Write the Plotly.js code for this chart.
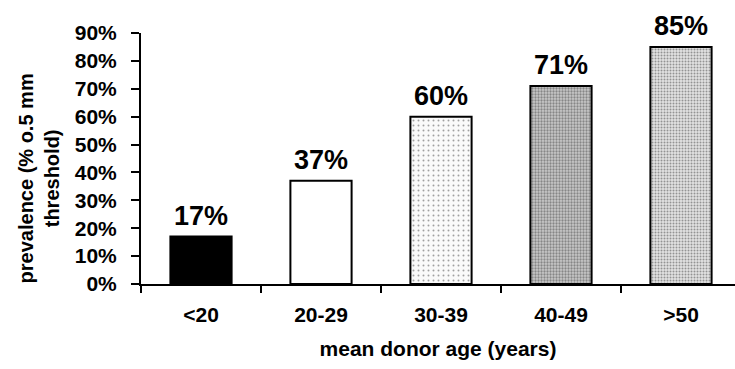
<!DOCTYPE html>
<html>
<head>
<meta charset="utf-8">
<script src="https://cdn.plot.ly/plotly-3.0.1.min.js"></script>
<style>
  html, body { margin: 0; padding: 0; background: #fff; }
  #chart { width: 735px; height: 369px; }
</style>
</head>
<body>
<div id="chart"></div>
<script>
// Donor age groups and prevalence (%) above the 0.5 mm threshold
const ageGroups = ['<20', '20-29', '30-39', '40-49', '>50'];
const prevalence = [17, 37, 60, 71, 85];
const yTickValues = [0, 10, 20, 30, 40, 50, 60, 70, 80, 90];

const FONT = 'Arial, "Liberation Sans", sans-serif';

// Fill for each bar: solid black, plain white, then three stippled greys
const fills = [
  { bg: '#000000', fg: '#000000', shape: '', size: 8, solidity: 0.3 },
  { bg: '#ffffff', fg: '#ffffff', shape: '', size: 8, solidity: 0.3 },
  { bg: '#fafafa', fg: '#8a8a8a', shape: '.', size: 5, solidity: 0.12 },
  { bg: '#c8c8c8', fg: '#3a3a3a', shape: '.', size: 3, solidity: 0.45 },
  { bg: '#e2e2e2', fg: '#666666', shape: '.', size: 3, solidity: 0.35 }
];

const bars = {
  type: 'bar',
  x: ageGroups,
  y: prevalence,
  width: 0.51,
  marker: {
    color: fills.map(f => f.bg),
    line: { color: '#000', width: 2 },
    pattern: {
      shape: fills.map(f => f.shape),
      fgcolor: fills.map(f => f.fg),
      bgcolor: fills.map(f => f.bg),
      size: fills.map(f => f.size),
      solidity: fills.map(f => f.solidity),
      fillmode: 'overlay'
    }
  },
  hoverinfo: 'skip'
};

// Value labels above each bar
const valueLabels = ageGroups.map((g, i) => ({
  x: g,
  y: prevalence[i],
  xref: 'x',
  yref: 'y',
  text: prevalence[i] + '%',
  showarrow: false,
  yanchor: 'bottom',
  yshift: 4,
  font: { family: FONT, size: 27, color: '#000', weight: 'bold' }
}));

// Two-line vertical axis title
const yTitle = {
  xref: 'paper',
  yref: 'paper',
  x: -0.172,
  y: 0.42,
  xanchor: 'center',
  yanchor: 'middle',
  textangle: -90,
  text: 'prevalence (% o.5 mm<br>threshold)',
  showarrow: false,
  font: { family: FONT, size: 20, color: '#000', weight: 'bold' }
};

const layout = {
  width: 735,
  height: 369,
  margin: { l: 141, r: 0, t: 33, b: 85 },
  paper_bgcolor: '#fff',
  plot_bgcolor: '#fff',
  showlegend: false,
  xaxis: {
    type: 'category',
    range: [-0.5, 4.45],
    showline: true,
    linecolor: '#000',
    linewidth: 2,
    ticks: 'outside',
    tickson: 'boundaries',
    ticklen: 7,
    tickwidth: 2,
    tickcolor: '#000',
    showgrid: false,
    zeroline: false,
    ticklabelstandoff: 11,
    tickfont: { family: FONT, size: 21, color: '#000', weight: 'bold' },
    title: {
      text: 'mean donor age (years)',
      font: { family: FONT, size: 21, color: '#000', weight: 'bold' },
      standoff: 16
    },
    automargin: false
  },
  yaxis: {
    range: [0, 90],
    tickmode: 'array',
    tickvals: yTickValues,
    ticktext: yTickValues.map(v => v + '%'),
    showline: true,
    linecolor: '#000',
    linewidth: 2,
    ticks: 'outside',
    ticklen: 8,
    tickwidth: 2,
    tickcolor: '#000',
    showgrid: false,
    zeroline: false,
    ticklabelstandoff: 10,
    tickfont: { family: FONT, size: 21, color: '#000', weight: 'bold' },
    automargin: false
  },
  annotations: valueLabels.concat([yTitle])
};

Plotly.newPlot('chart', [bars], layout, { staticPlot: true, displayModeBar: false });
</script>
</body>
</html>
